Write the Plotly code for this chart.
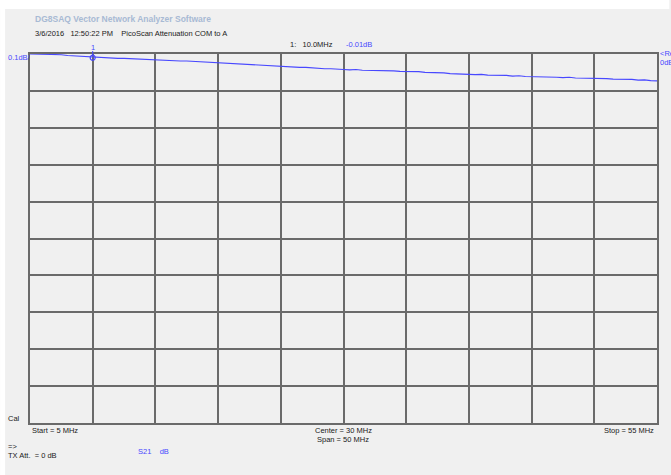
import plotly.graph_objects as go

# S21 sweep, 5..55 MHz in 0.5 MHz steps
freq_mhz = [5.0 + 0.5 * i for i in range(101)]
s21_db = [
    0.000, 0.000, -0.001, -0.001, -0.002, -0.002, -0.004, -0.005, -0.006, -0.008,
    -0.010, -0.010, -0.011, -0.011, -0.012, -0.012, -0.013, -0.014, -0.015, -0.015,
    -0.016, -0.017, -0.017, -0.018, -0.019, -0.019, -0.020, -0.021, -0.022, -0.023,
    -0.024, -0.025, -0.026, -0.026, -0.027, -0.028, -0.029, -0.030, -0.031, -0.032,
    -0.033, -0.034, -0.035, -0.036, -0.036, -0.038, -0.038, -0.040, -0.040, -0.042,
    -0.042, -0.043, -0.042, -0.044, -0.044, -0.045, -0.044, -0.046, -0.046, -0.047,
    -0.047, -0.049, -0.048, -0.050, -0.050, -0.052, -0.051, -0.053, -0.053, -0.055,
    -0.055, -0.056, -0.055, -0.057, -0.057, -0.058, -0.058, -0.060, -0.059, -0.061,
    -0.061, -0.062, -0.061, -0.063, -0.063, -0.064, -0.063, -0.065, -0.065, -0.066,
    -0.065, -0.067, -0.067, -0.068, -0.068, -0.069, -0.069, -0.071, -0.070, -0.072,
    -0.073,
]

# marker 1
marker_freq = [10.0]
marker_db = [-0.01]

# sweep settings
start_mhz, stop_mhz = 5, 55
ref_db, db_per_div, n_div = 0.0, 0.1, 10

W, H = 671, 475
L, T, R, B = 30, 54, 658.7, 423

BG = "#f0f0f0"
BLUE = "#4848ff"
GRID = "#6a6a6a"
FONT = "Liberation Sans Narrow, Arial Narrow, Liberation Sans, Arial"
FS = 7.5


def px(x):
    return (x - L) / (R - L)


def py(y):
    return (B - y) / (B - T)


fig = go.Figure()
fig.add_trace(go.Scatter(
    x=freq_mhz, y=s21_db, mode="lines",
    line=dict(color=BLUE, width=1.2), hoverinfo="skip", showlegend=False,
))
fig.add_trace(go.Scatter(
    x=marker_freq, y=marker_db, mode="markers",
    marker=dict(symbol="circle-open", size=5, color=BLUE, line=dict(width=1.2)),
    hoverinfo="skip", showlegend=False, cliponaxis=False,
))

ann = []


def text(x, y, s, color="#202020", size=FS, anchor="left", bold=False):
    if bold:
        s = "<b>" + s + "</b>"
    ann.append(dict(
        x=px(x), y=py(y), xref="paper", yref="paper", text=s, showarrow=False,
        xanchor=anchor, yanchor="middle",
        font=dict(family=FONT, size=size, color=color),
    ))


text(33, 19, "DG8SAQ Vector Network Analyzer Software", color="#a8bad4", size=8.5, bold=True)
text(33, 34, "3/6/2016&nbsp;&nbsp;&nbsp;12:50:22 PM&nbsp;&nbsp;&nbsp;&nbsp;PicoScan Attenuation COM to A")
text(289, 45, "1:&nbsp;&nbsp;&nbsp;10.0MHz")
text(345, 45, "-0.01dB", color=BLUE)
text(93, 47, "1", color=BLUE, anchor="center")
text(6, 58, "0.1dB/", color=BLUE)
text(660, 53, "&lt;Re", color=BLUE)
text(660, 62, "0dB", color=BLUE)
text(6, 418, "Cal")
text(30, 430, "Start = 5 MHz")
text(344, 430, "Center = 30 MHz", anchor="center")
text(344, 439, "Span = 50 MHz", anchor="center")
text(658, 430, "Stop = 55 MHz", anchor="right")
text(6, 446, "=&gt;")
text(6, 455, "TX Att.&nbsp;&nbsp;= 0 dB")
text(136, 451, "S21&nbsp;&nbsp;&nbsp;&nbsp;dB", color=BLUE)

shapes = [
    dict(type="rect", xref="paper", yref="paper", x0=px(0), x1=px(W), y0=py(0), y1=py(9),
         fillcolor="white", line=dict(width=0), layer="below"),
    dict(type="rect", xref="paper", yref="paper", x0=px(0), x1=px(5), y0=py(0), y1=py(H),
         fillcolor="white", line=dict(width=0), layer="below"),
    # marker stem
    dict(type="line", xref="x", yref="paper", x0=marker_freq[0], x1=marker_freq[0],
         y0=py(51), y1=py(55), line=dict(color=BLUE, width=1)),
]

fig.update_layout(
    width=W, height=H,
    margin=dict(l=L, t=T, r=W - R, b=H - B, pad=0),
    paper_bgcolor=BG, plot_bgcolor=BG,
    annotations=ann, shapes=shapes,
    xaxis=dict(range=[start_mhz, stop_mhz], dtick=(stop_mhz - start_mhz) / 10, tick0=start_mhz,
               showticklabels=False, ticks="", showgrid=True, gridcolor=GRID, gridwidth=1.5,
               zeroline=False, showline=True, linecolor=GRID, linewidth=1.5, mirror=True),
    yaxis=dict(range=[ref_db - n_div * db_per_div, ref_db], dtick=db_per_div, tick0=ref_db,
               showticklabels=False, ticks="", showgrid=True, gridcolor=GRID, gridwidth=1.5,
               zeroline=False, showline=True, linecolor=GRID, linewidth=1.5, mirror=True),
)

fig.write_html("out.html")
